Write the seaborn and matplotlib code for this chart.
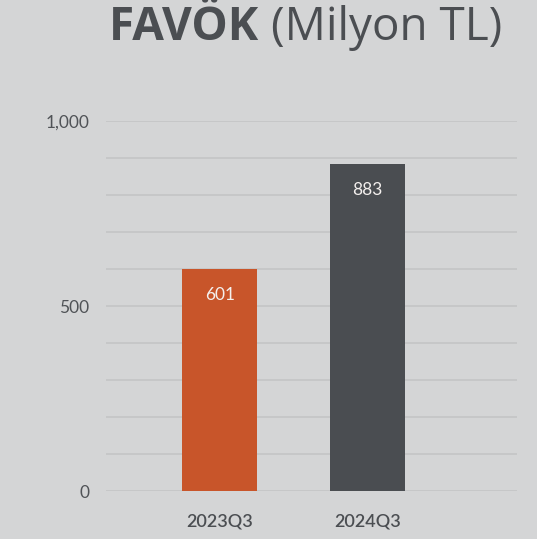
import matplotlib
matplotlib.use("Agg")
import matplotlib.pyplot as plt
import seaborn as sns
import pandas as pd

periods = ["2023Q3", "2024Q3"]
favok = [601, 883]
bar_colors = ["#c8552a", "#4a4d51"]

bg = "#d4d5d6"
text_col = "#4b4e52"

sns.set_theme(style="white")
plt.rcParams["font.family"] = ["Lato", "DejaVu Sans"]

df = pd.DataFrame({"Period": periods, "FAVOK": favok})

fig = plt.figure(figsize=(5.37, 5.39), dpi=100, facecolor=bg)
ax = fig.add_axes([0.197, 0.089, 0.766, 0.6865], facecolor=bg)

sns.barplot(data=df, x="Period", y="FAVOK", hue="Period", palette=bar_colors,
            width=0.507, legend=False, ax=ax, saturation=1, linewidth=0)

ax.set_ylim(0, 1000)
ax.set_xlim(-0.77, 2.01)
ax.set_yticks([0, 500, 1000])
ax.set_yticklabels(["0", "500", "1,000"])
ax.set_yticks(range(0, 1001, 100), minor=True)
ax.grid(axis="y", which="both", color="#c4c5c6", linewidth=1.2)
ax.set_axisbelow(True)
for s in ax.spines.values():
    s.set_visible(False)
ax.tick_params(axis="y", which="both", length=0, pad=12, labelsize=12.5, labelcolor="#505357")
ax.tick_params(axis="x", length=0, pad=16, labelsize=13, labelcolor="#4b4e52")
for lbl in ax.get_xticklabels():
    lbl.set_fontweight("semibold")
ax.set_xlabel("")
ax.set_ylabel("")

for i, v in enumerate(favok):
    ax.text(i, v - 70, str(v), ha="center", va="center", color="#f4f0ee", fontsize=12.5)

# title: bold part + regular part
title_font = ["Open Sans", "DejaVu Sans"]
t2 = fig.text(0.936, 0.926, "(Milyon TL)", ha="right", va="baseline",
              fontsize=33, color=text_col, family=title_font)
fig.canvas.draw()
bb = t2.get_window_extent(fig.canvas.get_renderer())
x_left = bb.x0 / fig.bbox.width
fig.text(x_left - 0.022, 0.926, "FAVÖK", ha="right", va="baseline",
         fontsize=33, fontweight="bold", color=text_col, family=title_font)

fig.savefig("out.png", dpi=100, facecolor=bg)
